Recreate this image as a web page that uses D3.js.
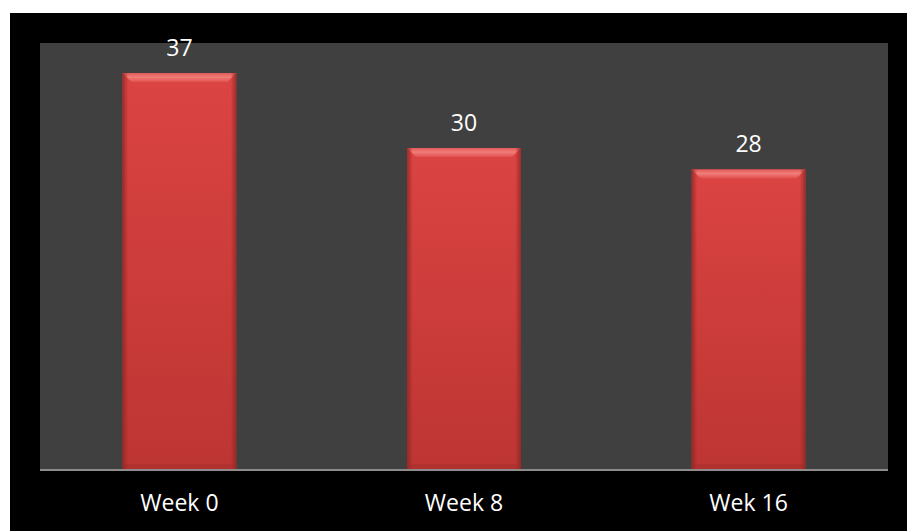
<!DOCTYPE html>
<html><head><meta charset="utf-8">
<script src="https://cdn.jsdelivr.net/npm/d3@7"></script>
<style>html,body{margin:0;padding:0;background:#fff;overflow:hidden}</style>
</head><body>
<svg id="chart" width="907" height="531"></svg>
<script>
const categories = ["Week 0", "Week 8", "Wek 16"];
const values = [37, 30, 28];
const yTicks = [0, 10, 20, 30, 40];

const svg = d3.select("#chart");
svg.append("rect").attr("x", 10).attr("y", 13).attr("width", 897).attr("height", 518).attr("fill", "#000");

const plot = {left: 40, right: 888, top: 43, bottom: 469};
svg.append("rect").attr("x", plot.left).attr("y", plot.top)
  .attr("width", plot.right - plot.left).attr("height", plot.bottom - plot.top).attr("fill", "#404040");

const x = d3.scaleBand().domain(categories).range([plot.left, plot.right]).paddingInner(0.6).paddingOuter(0.29);
const y = d3.scaleLinear().domain([0, d3.max(yTicks)]).range([plot.bottom, plot.top - 2]);

const defs = svg.append("defs");
const gMain = defs.append("linearGradient").attr("id", "gMain").attr("x1", 0).attr("y1", 0).attr("x2", 0).attr("y2", 1);
gMain.append("stop").attr("offset", "0%").attr("stop-color", "#db4442");
gMain.append("stop").attr("offset", "100%").attr("stop-color", "#bd3533");
const gSide = defs.append("linearGradient").attr("id", "gSide").attr("x1", 0).attr("y1", 0).attr("x2", 1).attr("y2", 0);
gSide.append("stop").attr("offset", "0%").attr("stop-color", "#8a2422").attr("stop-opacity", 0.75);
gSide.append("stop").attr("offset", "5%").attr("stop-color", "#8a2422").attr("stop-opacity", 0);
gSide.append("stop").attr("offset", "95%").attr("stop-color", "#8a2422").attr("stop-opacity", 0);
gSide.append("stop").attr("offset", "100%").attr("stop-color", "#8a2422").attr("stop-opacity", 0.75);
const gTop = defs.append("linearGradient").attr("id", "gTop").attr("x1", 0).attr("y1", 0).attr("x2", 0).attr("y2", 1);
gTop.append("stop").attr("offset", "0%").attr("stop-color", "#e25a57");
gTop.append("stop").attr("offset", "45%").attr("stop-color", "#f07d79");
gTop.append("stop").attr("offset", "100%").attr("stop-color", "#e0504d");

const bars = svg.append("g").selectAll("g").data(categories).join("g");
bars.append("rect")
  .attr("x", d => x(d)).attr("y", (d, i) => y(values[i]))
  .attr("width", x.bandwidth()).attr("height", (d, i) => y(0) - y(values[i]))
  .attr("fill", "url(#gMain)");
bars.append("path")
  .attr("d", (d, i) => {
    const x0 = x(d), x1 = x(d) + x.bandwidth(), t = y(values[i]), b = 9;
    return `M${x0},${t}L${x1},${t}L${x1 - b},${t + b}L${x0 + b},${t + b}Z`;
  })
  .attr("fill", "url(#gTop)");
bars.append("rect")
  .attr("x", d => x(d)).attr("y", (d, i) => y(values[i]))
  .attr("width", x.bandwidth()).attr("height", (d, i) => y(0) - y(values[i]))
  .attr("fill", "url(#gSide)");
bars.append("rect")
  .attr("x", d => x(d)).attr("y", y(0) - 5)
  .attr("width", x.bandwidth()).attr("height", 5)
  .attr("fill", "#9a2a28").attr("opacity", 0.35);

svg.append("g").selectAll("text").data(categories).join("text")
  .attr("x", d => x(d) + x.bandwidth() / 2)
  .attr("y", (d, i) => y(values[i]) - 17)
  .attr("text-anchor", "middle")
  .attr("font-family", "'Open Sans', sans-serif").attr("font-size", 23)
  .attr("fill", "#fff")
  .text((d, i) => values[i]);

const xAxis = svg.append("g").attr("transform", `translate(0,${plot.bottom})`)
  .call(d3.axisBottom(x).tickSize(0).tickPadding(26));
xAxis.select(".domain").attr("stroke", "#8c8c8c").attr("stroke-width", 2)
  .attr("d", `M${plot.left},1H${plot.right}`);
xAxis.selectAll("text").attr("font-family", "'Open Sans', sans-serif").attr("font-size", 23).attr("fill", "#fff");
</script>
</body></html>
